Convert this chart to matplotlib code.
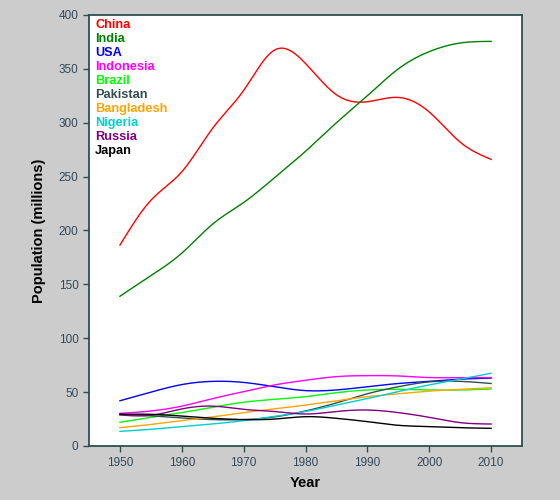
import numpy as np
import matplotlib
matplotlib.use('Agg')
import matplotlib.pyplot as plt

plt.rcParams['font.family'] = ['Liberation Sans', 'DejaVu Sans']

years = [1950, 1955, 1960, 1965, 1970, 1975, 1980, 1985, 1990, 1995, 2000, 2005, 2010]

countries = ['China', 'India', 'USA', 'Indonesia', 'Brazil', 'Pakistan',
             'Bangladesh', 'Nigeria', 'Russia', 'Japan']
colors = ['#ff0000', '#008000', '#0000ff', '#ff00ff', '#00ff00', '#2f4f4f',
          '#ffa500', '#00ced1', '#800080', '#000000']

china = [186.5, 228, 254.5, 295, 330, 367.5, 355, 326, 319.5, 323.5, 310, 282, 266]
india = [139, 158, 179, 206, 226, 249, 273.5, 300, 325, 350, 366, 374, 375.5]
usa = [42, 50, 57, 60, 59, 55, 51.4, 52, 55, 58, 60, 62, 63]
indonesia = [30.3, 32.5, 37, 44, 50.5, 56.7, 61, 64.4, 65.3, 65, 63.5, 63.5, 63.5]
brazil = [22, 26.6, 31, 36, 40.6, 43.3, 45.8, 49.5, 52, 52.6, 52, 52, 53]
pakistan = [29.5, 28, 26, 24.5, 24.5, 27, 32.5, 40, 48.5, 55, 59.5, 60, 58]
bangladesh = [17, 20, 23.5, 27, 31, 34.5, 38, 42, 45.8, 48.5, 51, 52.5, 54]
nigeria = [13.6, 15.5, 18, 20.5, 23.5, 27.5, 32, 38, 44, 50.5, 56.7, 62, 67.5]
russia = [28.8, 28.5, 34.4, 37, 34, 32, 29.7, 32, 33.4, 31, 26.6, 21.7, 20.4]
japan = [29.4, 29.4, 27.8, 25.7, 24.5, 25, 27.2, 25.7, 22.6, 19.2, 18, 17, 16.4]

series = [china, india, usa, indonesia, brazil, pakistan, bangladesh, nigeria, russia, japan]


def natural_spline(x, y, xs):
    x = np.asarray(x, float)
    y = np.asarray(y, float)
    n = len(x)
    h = np.diff(x)
    A = np.zeros((n, n))
    b = np.zeros(n)
    A[0, 0] = 1
    A[-1, -1] = 1
    for i in range(1, n - 1):
        A[i, i - 1] = h[i - 1]
        A[i, i] = 2 * (h[i - 1] + h[i])
        A[i, i + 1] = h[i]
        b[i] = 6 * ((y[i + 1] - y[i]) / h[i] - (y[i] - y[i - 1]) / h[i - 1])
    M = np.linalg.solve(A, b)
    idx = np.clip(np.searchsorted(x, xs) - 1, 0, n - 2)
    x0, x1 = x[idx], x[idx + 1]
    hh = x1 - x0
    t0 = x1 - xs
    t1 = xs - x0
    return (M[idx] * t0**3 / (6 * hh) + M[idx + 1] * t1**3 / (6 * hh)
            + (y[idx] / hh - M[idx] * hh / 6) * t0
            + (y[idx + 1] / hh - M[idx + 1] * hh / 6) * t1)


fig = plt.figure(figsize=(5.6, 5.0), dpi=100, facecolor='#cccccc')
ax = fig.add_axes([89 / 560, 54 / 500, 433 / 560, 431 / 500])
ax.set_facecolor('white')

xs = np.linspace(years[0], years[-1], 400)
for vals, c in zip(series, colors):
    ax.plot(xs, natural_spline(years, vals, xs), color=c, lw=1)

# coloured country names instead of a boxed legend
for i, (name, c) in enumerate(zip(countries, colors)):
    ax.text(0.014, 0.977 - i * 0.0325, name, color=c, fontsize=9.2,
            fontweight='bold', va='center', ha='left', transform=ax.transAxes)

ax.set_xlim(1945, 2015)
ax.set_ylim(0, 400)
ax.set_xticks(range(1950, 2011, 10))
ax.set_yticks(range(0, 401, 50))

edge = '#2f4f4f'
for s in ax.spines.values():
    s.set_color(edge)
    s.set_linewidth(1.3)
ax.tick_params(direction='out', length=4, width=1, color=edge,
               labelcolor='#34495a', labelsize=8.5)
ax.tick_params(axis='x', pad=4)

ax.set_xlabel('Year', fontsize=10.5, fontweight='bold', labelpad=5)
ax.set_ylabel('Population (millions)', fontsize=10.5, fontweight='bold', labelpad=9)

fig.savefig('out.png', dpi=100, facecolor=fig.get_facecolor())
